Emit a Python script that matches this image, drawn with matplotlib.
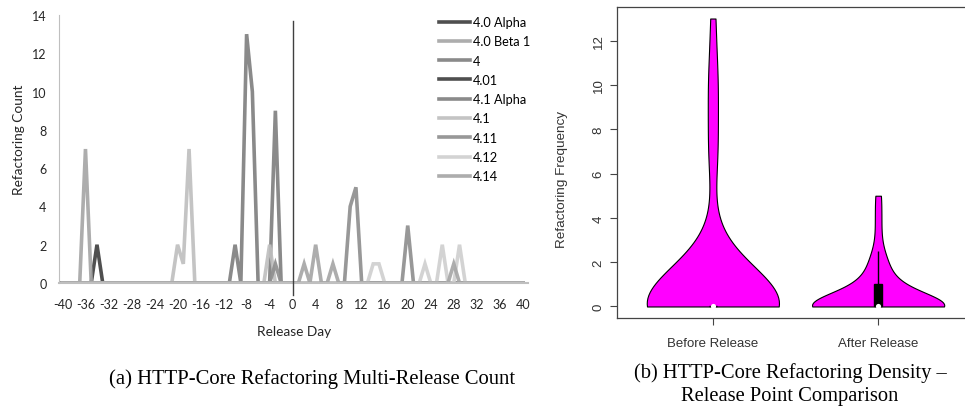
import matplotlib.pyplot as plt
from matplotlib.patches import Rectangle
import numpy as np

plt.rcParams['axes.unicode_minus'] = False

# release days on the x axis of the left chart
days = list(range(-40, 41))

series_names = ['4.0 Alpha', '4.0 Beta 1', '4', '4.01', '4.1 Alpha',
                '4.1', '4.11', '4.12', '4.14']
series_colors = ['#404040', '#a6a6a6', '#808080', '#404040', '#808080',
                 '#bfbfbf', '#8f8f8f', '#d0d0d0', '#a6a6a6']

# non-zero refactoring counts per release (day: count), every other day is 0
peaks_40_alpha = {-34: 2}
peaks_40_beta1 = {-36: 7}
peaks_4 = {-10: 2, -8: 13, -7: 10}
peaks_401 = {}
peaks_41_alpha = {-3: 9}
peaks_41 = {-20: 2, -19: 1, -18: 7, -4: 2}
peaks_411 = {-3: 1, 10: 4, 11: 5, 20: 3}
peaks_412 = {14: 1, 15: 1, 23: 1, 26: 2, 29: 2}
peaks_414 = {2: 1, 4: 2, 7: 1, 28: 1}

all_peaks = [peaks_40_alpha, peaks_40_beta1, peaks_4, peaks_401, peaks_41_alpha,
             peaks_41, peaks_411, peaks_412, peaks_414]
series_values = [[p.get(d, 0) for d in days] for p in all_peaks]

violin_labels = ['Before Release', 'After Release']

W, H = 965, 410
fig = plt.figure(figsize=(W / 100, H / 100), dpi=100)

# ---------------- (a) line chart ----------------
left_font = 'Lato'
ax1 = fig.add_axes([59 / W, 1 - 284 / H, (528 - 59) / W, (284 - 16) / H])
for name, col, vals in zip(series_names, series_colors, series_values):
    ax1.plot(days, vals, color=col, lw=2.6, label=name, solid_joinstyle='miter', alpha=0.92)
ax1.axvline(0, ymin=-0.045, ymax=0.979, color='#404040', lw=1, clip_on=False, zorder=10)
ax1.set_xlim(-40.6, 40.9)
ax1.set_ylim(0, 14)
ax1.set_xticks(range(-40, 41, 4))
ax1.set_yticks(range(0, 15, 2))
ax1.tick_params(length=0, labelsize=9, labelcolor='#262626')
ax1.tick_params(axis='x', pad=10.5)
ax1.tick_params(axis='y', pad=9)
for lab in ax1.get_xticklabels() + ax1.get_yticklabels():
    lab.set_family(left_font)
for s in ['top', 'right']:
    ax1.spines[s].set_visible(False)
ax1.spines['left'].set_color('#bfbfbf')
ax1.spines['bottom'].set_color('#bfbfbf')
ax1.spines['bottom'].set_linewidth(1.5)
ax1.set_ylabel('Refactoring Count', family=left_font, fontsize=9.8, color='#262626')
ax1.yaxis.set_label_coords(-0.072, 0.537)
ax1.set_xlabel('Release Day', family=left_font, fontsize=9.8, color='#262626')
ax1.xaxis.set_label_coords(0.501, -0.158)
ax1.legend(loc='upper left', bbox_to_anchor=(439 / W, 1 - 17 / H),
           bbox_transform=fig.transFigure, frameon=False, borderpad=0,
           borderaxespad=0, handlelength=2.45, handletextpad=0.2,
           labelspacing=0.57, prop={'family': left_font, 'size': 9.2})

# ---------------- (b) violin plot ----------------
totals = np.sum(series_values, axis=0)
before_vals = [t for d, t in zip(days, totals) if d <= 0]
after_vals = [t for d, t in zip(days, totals) if d > 0]

rfont = 'Liberation Sans'
ax2 = fig.add_axes([617 / W, 1 - 319 / H, (974 - 617) / W, (319 - 8) / H])
parts = ax2.violinplot([before_vals, after_vals], positions=[1, 2], widths=0.8,
                       showextrema=False, bw_method=0.5)
for body in parts['bodies']:
    body.set_facecolor('#ff00ff')
    body.set_edgecolor('black')
    body.set_linewidth(0.8)
    body.set_alpha(1)

for pos, vals in zip([1, 2], [before_vals, after_vals]):
    q1, med, q3 = np.percentile(vals, [25, 50, 75])
    iqr = q3 - q1
    hi = min(max(vals), q3 + 1.5 * iqr)
    lo = max(min(vals), q1 - 1.5 * iqr)
    ax2.vlines(pos, lo, hi, color='black', lw=1, zorder=3)
    ax2.add_patch(Rectangle((pos - 0.025, q1), 0.05, q3 - q1, color='black', zorder=4))
    ax2.scatter([pos], [med], color='white', s=14, zorder=5, linewidths=0)

ax2.set_xlim(0.42, 2.58)
ax2.set_ylim(-0.52, 13.52)
ax2.set_yticks(range(0, 13, 2))
ax2.set_xticks([1, 2])
ax2.set_xticklabels(violin_labels)
ax2.tick_params(length=5, width=0.8, color='#444444', labelsize=9.5,
                labelcolor='#333333')
ax2.tick_params(axis='x', pad=8.5)
ax2.tick_params(axis='y', pad=4)
for lab in ax2.get_yticklabels():
    lab.set_rotation(90)
    lab.set_va('center')
for lab in ax2.get_xticklabels() + ax2.get_yticklabels():
    lab.set_family(rfont)
for s in ax2.spines.values():
    s.set_color('#444444')
    s.set_linewidth(0.9)
ax2.set_ylabel('Refactoring Frequency', family=rfont, fontsize=9.7, color='#333333')
ax2.yaxis.set_label_coords(-0.137, 0.447)

# ---------------- captions ----------------
cap_font = 'Liberation Serif'
fig.text(312 / W, 1 - 379 / H, '(a) HTTP-Core Refactoring Multi-Release Count',
         family=cap_font, fontsize=14.9, ha='center', va='center')
fig.text(790 / W, 1 - 373 / H, '(b) HTTP-Core Refactoring Density \u2013',
         family=cap_font, fontsize=14.8, ha='center', va='center')
fig.text(790 / W, 1 - 397 / H, 'Release Point Comparison',
         family=cap_font, fontsize=14.8, ha='center', va='center')

plt.savefig('out.png', dpi=100)
